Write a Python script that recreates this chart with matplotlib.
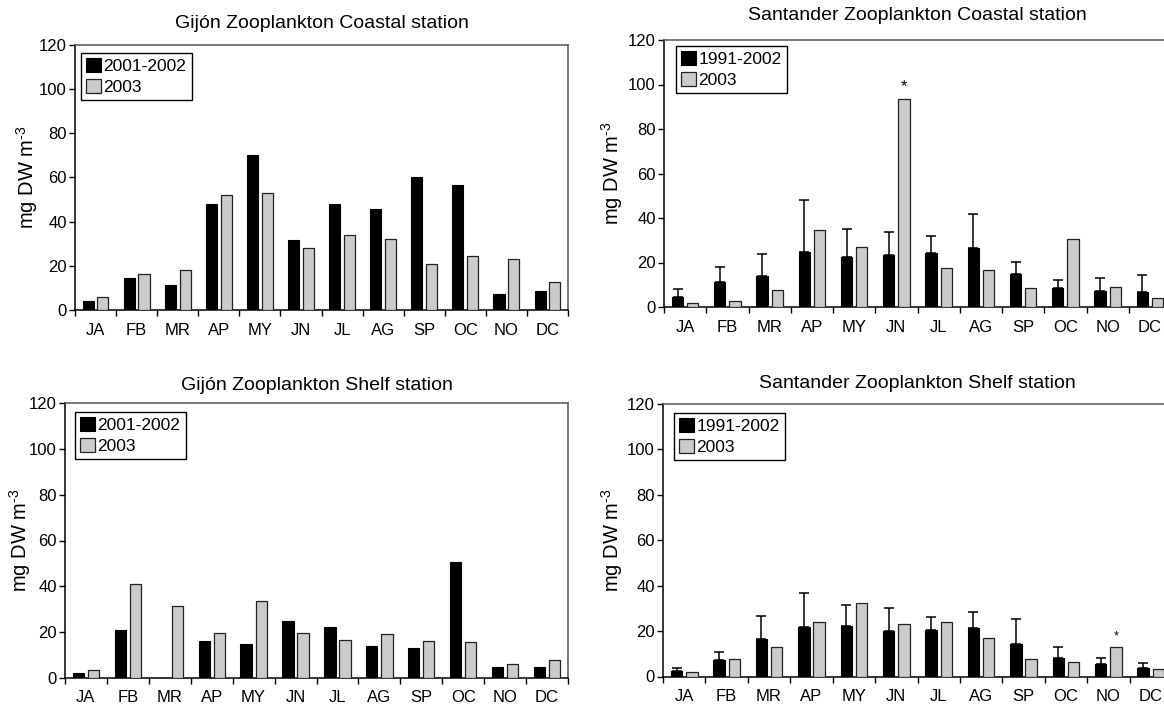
import matplotlib
matplotlib.use("Agg")
import matplotlib.pyplot as plt
import numpy as np

plt.rcParams['font.family'] = ['Liberation Sans', 'DejaVu Sans']
plt.rcParams['mathtext.fontset'] = 'custom'
plt.rcParams['mathtext.rm'] = 'Liberation Sans'
plt.rcParams['mathtext.it'] = 'Liberation Sans:italic'
plt.rcParams['mathtext.bf'] = 'Liberation Sans:bold'

months = ["JA", "FB", "MR", "AP", "MY", "JN", "JL", "AG", "SP", "OC", "NO", "DC"]

# Gijón coastal
gij_coast_hist = [4.2, 14.6, 11.3, 48.0, 70.2, 31.5, 48.0, 45.6, 59.9, 56.6, 7.2, 8.6]
gij_coast_2003 = [5.7, 16.2, 18.0, 52.1, 52.8, 27.9, 33.8, 32.2, 20.7, 24.6, 22.9, 12.5]
# Gijón shelf
gij_shelf_hist = [2.3, 20.8, 0.0, 16.0, 15.0, 25.0, 22.1, 13.9, 12.9, 50.5, 4.8, 4.9]
gij_shelf_2003 = [3.3, 40.9, 31.4, 19.5, 33.7, 19.7, 16.6, 19.2, 16.0, 15.9, 6.1, 7.8]
# Santander coastal
san_coast_hist = [4.5, 11.1, 13.8, 24.7, 22.6, 23.3, 24.4, 26.5, 14.8, 8.5, 7.2, 6.6]
san_coast_err = [3.4, 6.7, 10.1, 23.6, 12.6, 10.4, 7.5, 15.4, 5.6, 3.8, 5.8, 7.8]
san_coast_2003 = [1.9, 2.5, 7.6, 34.4, 27.1, 93.4, 17.7, 16.6, 8.4, 30.5, 9.1, 4.0]
# Santander shelf
san_shelf_hist = [2.6, 7.2, 16.4, 22.0, 22.4, 20.0, 20.4, 21.3, 14.2, 8.1, 5.4, 3.8]
san_shelf_err = [1.1, 3.4, 10.3, 14.8, 9.1, 10.1, 5.9, 7.0, 11.3, 5.0, 2.8, 2.1]
san_shelf_2003 = [2.2, 7.9, 13.2, 24.1, 32.3, 22.9, 24.1, 17.0, 7.6, 6.3, 13.1, 3.2]

W, H = 1164, 711
fig = plt.figure(figsize=(W / 100, H / 100), dpi=100)

def rect(l, r, t, b):
    return [l / W, 1 - b / H, (r - l) / W, (b - t) / H]

GRAY = "#cbcbcb"
x = np.arange(len(months))
bw = 0.27
off = 0.18

def panel(r, title, title_y, ylab_x, hist, new, err, leg_px, hist_label, stars):
    ax = fig.add_axes(rect(*r))
    ax.bar(x - off, hist, bw, color="black", edgecolor="black", linewidth=0.8, zorder=3)
    ax.bar(x + off, new, bw, color=GRAY, edgecolor="#222222", linewidth=0.9, zorder=3)
    if err is not None:
        ax.errorbar(x - off, hist, yerr=[np.zeros(len(err)), err], fmt="none",
                     ecolor="black", elinewidth=1.1, capsize=3.5, capthick=1.1, zorder=2)
    for (i, dy, fs) in stars:
        ax.text(i + off, new[i] + dy, "*", ha="center", va="center", fontsize=fs)
    ax.set_xlim(-0.5, len(months) - 0.5)
    ax.set_ylim(0, 120)
    ax.set_yticks(range(0, 121, 20))
    ax.set_xticks(x)
    ax.set_xticklabels(months)
    ax.set_xticks(np.arange(-0.5, len(months)), minor=True)
    ax.tick_params(axis="x", which="major", length=0, pad=9, labelsize=12)
    ax.tick_params(axis="x", which="minor", length=4, width=1, direction="out")
    ax.tick_params(axis="y", length=4, width=1, direction="out", pad=2, labelsize=12)
    for s in ["left", "bottom"]:
        ax.spines[s].set_color("black")
        ax.spines[s].set_linewidth(1.1)
    for s in ["top", "right"]:
        ax.spines[s].set_color("#555555")
        ax.spines[s].set_linewidth(1.1)
    cx = (r[0] + r[1]) / 2
    fig.text(cx / W, 1 - title_y / H, title, ha="center", va="center", fontsize=14)
    fig.text(ylab_x / W, 1 - ((r[2] + r[3]) / 2) / H, r"mg DW m$^{\text{-3}}$",
             rotation=90, ha="center", va="center", fontsize=14.5)
    leg = ax.legend(labels=[hist_label, "2003"], handles=ax.patches[:1] + [ax.patches[len(months)]],
                    loc="upper left",
                    bbox_to_anchor=(leg_px[0] / W, 1 - leg_px[1] / H),
                    bbox_transform=fig.transFigure,
                    fontsize=12.5, frameon=True, fancybox=False, framealpha=1,
                    edgecolor="black", handlelength=0.85, handleheight=0.85,
                    handletextpad=0.15, borderpad=0.3, labelspacing=0.3,
                    borderaxespad=0)
    leg.get_frame().set_linewidth(1.0)
    return ax

panel((75, 568, 44.5, 310), "Gijón Zooplankton Coastal station", 23, 27,
      gij_coast_hist, gij_coast_2003, None, (81, 53), "2001-2002", [])
panel((664, 1171, 40, 307), "Santander Zooplankton Coastal station", 16, 612,
      san_coast_hist, san_coast_2003, san_coast_err, (676, 46), "1991-2002", [(5, 5.5, 12)])
panel((65, 568, 403, 678), "Gijón Zooplankton Shelf station", 385, 20,
      gij_shelf_hist, gij_shelf_2003, None, (75, 412), "2001-2002", [])
panel((663, 1172, 404, 676.5), "Santander Zooplankton Shelf station", 383, 612,
      san_shelf_hist, san_shelf_2003, san_shelf_err, (674, 413), "1991-2002", [(10, 4.5, 9)])

fig.savefig("out.png", dpi=100)
